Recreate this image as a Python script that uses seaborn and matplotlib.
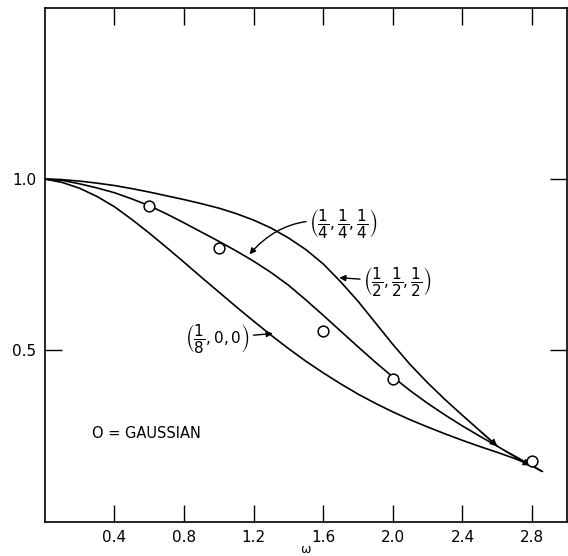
import numpy as np
import pandas as pd
import matplotlib
matplotlib.use("Agg")
import matplotlib.pyplot as plt
import seaborn as sns

# ==========================================
# data
# ==========================================
x_low = [0, 0.1, 0.2, 0.3, 0.4, 0.5, 0.6, 0.7, 0.8, 0.9, 1.0, 1.1, 1.2, 1.3, 1.4,
         1.5, 1.6, 1.7, 1.8, 1.9, 2.0, 2.1, 2.2, 2.3, 2.4, 2.5, 2.6, 2.7, 2.8, 2.85]
y_low = [1.0, 0.99, 0.973, 0.949, 0.919, 0.882, 0.842, 0.80, 0.757, 0.713, 0.67, 0.627,
         0.585, 0.544, 0.505, 0.468, 0.434, 0.402, 0.372, 0.345, 0.32, 0.297, 0.276,
         0.256, 0.237, 0.219, 0.202, 0.184, 0.163, 0.148]

x_mid = [0, 0.1, 0.2, 0.3, 0.4, 0.5, 0.6, 0.7, 0.8, 0.9, 1.0, 1.1, 1.2, 1.3, 1.4,
         1.5, 1.6, 1.7, 1.8, 1.9, 2.0, 2.1, 2.2, 2.3, 2.4, 2.5, 2.6, 2.7, 2.79]
y_mid = [1.0, 0.996, 0.986, 0.974, 0.96, 0.942, 0.922, 0.898, 0.872, 0.845, 0.818,
         0.79, 0.76, 0.727, 0.69, 0.647, 0.602, 0.556, 0.51, 0.465, 0.422, 0.382,
         0.345, 0.311, 0.279, 0.249, 0.22, 0.19, 0.163]

x_up = [0, 0.1, 0.2, 0.3, 0.4, 0.5, 0.6, 0.7, 0.8, 0.9, 1.0, 1.1, 1.2, 1.3, 1.4,
        1.5, 1.6, 1.7, 1.8, 1.9, 2.0, 2.1, 2.2, 2.3, 2.4, 2.5, 2.6]
y_up = [1.0, 0.998, 0.994, 0.988, 0.981, 0.972, 0.962, 0.951, 0.94, 0.928, 0.915,
        0.899, 0.88, 0.857, 0.828, 0.794, 0.752, 0.70, 0.643, 0.58, 0.517, 0.458,
        0.405, 0.356, 0.31, 0.265, 0.22]
# short continuation of the upper curve after its arrow head
x_up_tail = [2.65, 2.86]
y_up_tail = [0.205, 0.146]

x_gauss = [0.6, 1.0, 1.6, 2.0, 2.8]
y_gauss = [0.92, 0.80, 0.557, 0.415, 0.176]

xticks = [0.4, 0.8, 1.2, 1.6, 2.0, 2.4, 2.8]
xtick_labels = ["0.4", "0.8", "1.2", "1.6", "2.0", "2.4", "2.8"]
yticks = [0.5, 1.0]
ytick_labels = ["0.5", "1.0"]

# ==========================================
# figure
# ==========================================
sns.set_theme(style="ticks")
plt.rcParams['font.family'] = ['DejaVu Sans']
plt.rcParams['text.color'] = 'black'
plt.rcParams['axes.labelcolor'] = 'black'
plt.rcParams['xtick.color'] = 'black'
plt.rcParams['ytick.color'] = 'black'

fig = plt.figure(figsize=(5.68, 5.56), dpi=100)
ax = fig.add_axes([0.079, 0.062, 0.919, 0.924])

line_kw = dict(color="black", linewidth=1.2, sort=False, estimator=None, ax=ax)
sns.lineplot(x=x_low, y=y_low, **line_kw)
sns.lineplot(x=x_mid, y=y_mid, **line_kw)
sns.lineplot(x=x_up, y=y_up, **line_kw)
sns.lineplot(x=x_up_tail, y=y_up_tail, **line_kw)

# arrow heads at the ends of the upper and middle curves
for xs, ys in [(x_up, y_up), (x_mid, y_mid)]:
    ax.annotate("", xy=(xs[-1], ys[-1]), xytext=(xs[-2], ys[-2]),
                arrowprops=dict(arrowstyle="-|>", color="black", lw=1.0,
                                mutation_scale=10, shrinkA=0, shrinkB=0))

gauss = pd.DataFrame({"w": x_gauss, "v": y_gauss})
sns.scatterplot(data=gauss, x="w", y="v", ax=ax, marker="o", s=60,
                facecolor="white", edgecolor="black", linewidth=1.1, zorder=5)

# curve labels with leader arrows
lbl_kw = dict(fontsize=11, color="black")
arr = dict(arrowstyle="-|>", color="black", lw=1.0, mutation_scale=9, shrinkA=0, shrinkB=0)
ax.annotate(r"$\left(\dfrac{1}{4},\dfrac{1}{4},\dfrac{1}{4}\right)$", xy=(1.176, 0.78),
            xytext=(1.52, 0.87), va="center", ha="left",
            arrowprops=dict(arr, connectionstyle="arc3,rad=0.3"), **lbl_kw)
ax.annotate(r"$\left(\dfrac{1}{2},\dfrac{1}{2},\dfrac{1}{2}\right)$", xy=(1.692, 0.712),
            xytext=(1.83, 0.70), va="center", ha="left", arrowprops=arr, **lbl_kw)
ax.annotate(r"$\left(\dfrac{1}{8},0,0\right)$", xy=(1.31, 0.549),
            xytext=(1.18, 0.535), va="center", ha="right", arrowprops=arr, **lbl_kw)

ax.text(0.27, 0.256, "O = GAUSSIAN", fontsize=10.5, va="center", ha="left")

# axes
ax.set_xlim(0, 3.0)
ax.set_ylim(0, 1.5)
ax.set_xticks(xticks)
ax.set_xticklabels(xtick_labels, fontsize=11)
ax.set_yticks(yticks)
ax.set_yticklabels(ytick_labels, fontsize=11)
ax.tick_params(direction="in", length=12, width=1.0, color="black",
               top=True, right=True, pad=6)
for s in ax.spines.values():
    s.set_visible(True)
    s.set_linewidth(1.2)
    s.set_color("black")
ax.set_xlabel("ω", fontsize=9)
ax.xaxis.set_label_coords(0.5, -0.042)
ax.set_ylabel("")

fig.savefig("out.png", dpi=100)
